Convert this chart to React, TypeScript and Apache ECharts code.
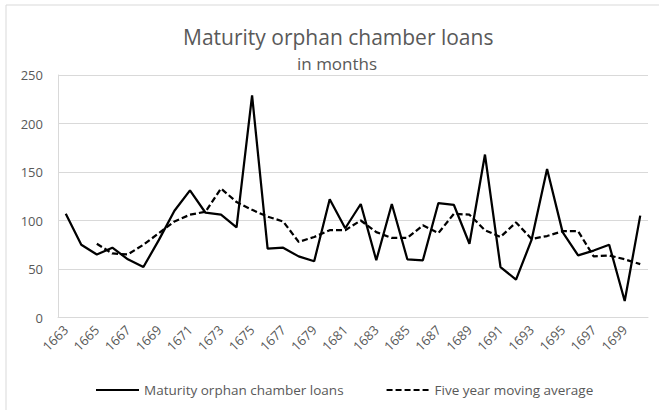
import React, { useEffect, useRef } from "react";
import * as echarts from "echarts";

const years = [
  "1663", "1664", "1665", "1666", "1667", "1668", "1669", "1670", "1671", "1672",
  "1673", "1674", "1675", "1676", "1677", "1678", "1679", "1680", "1681", "1682",
  "1683", "1684", "1685", "1686", "1687", "1688", "1689", "1690", "1691", "1692",
  "1693", "1694", "1695", "1696", "1697", "1698", "1699", "1700",
];

const loans = [
  107, 75, 65, 72, 60, 52, 80, 110, 131, 108,
  106, 93, 229, 71, 72, 63, 58, 122, 92, 117,
  59, 117, 60, 59, 118, 116, 76, 168, 52, 39,
  80, 153, 88, 64, 69, 75, 17, 105,
];

const movingAverage = [
  null, null, 76, 66, 65, 75, 87, 99, 106, 109,
  133, 119, 111, 104, 99, 78, 83, 90, 90, 100,
  88, 82, 82, 95, 87, 107, 106, 90, 83, 98,
  81, 84, 89, 89, 63, 64, 60, 55,
];

const yTicks = { min: 0, max: 250, interval: 50 };

const FONT = "'Open Sans', sans-serif";
const TEXT = "#595959";
const GRIDC = "#d9d9d9";

export default function App() {
  const ref = useRef<HTMLDivElement>(null);
  useEffect(() => {
    document.body.style.margin = "0";
    if (!ref.current) return;
    const chart = echarts.init(ref.current, undefined, { renderer: "svg" });
    chart.setOption({
      animation: false,
      backgroundColor: "#ffffff",
      textStyle: { fontFamily: FONT },
      graphic: [
        {
          type: "rect",
          z: -1,
          shape: { x: 6, y: 5, width: 720, height: 520 },
          style: { fill: "none", stroke: GRIDC, lineWidth: 1 },
        },
      ],
      title: [
        {
          text: "Maturity orphan chamber loans",
          left: 178,
          top: 21,
          textStyle: { fontFamily: FONT, fontSize: 21, fontWeight: "normal", color: TEXT },
        },
        {
          text: "in months",
          left: 292,
          top: 50,
          textStyle: { fontFamily: FONT, fontSize: 17, fontWeight: "normal", color: TEXT },
        },
      ],
      legend: {
        top: 378,
        left: 90,
        itemWidth: 43,
        itemHeight: 14,
        itemGap: 42,
        itemStyle: { opacity: 0, borderWidth: 0 },
        textStyle: { fontFamily: FONT, fontSize: 13.5, color: TEXT },
        data: ["Maturity orphan chamber loans", "Five year moving average"],
      },
      grid: { left: 58, right: 11, top: 75, bottom: 92.5 },
      xAxis: {
        type: "category",
        data: years,
        boundaryGap: true,
        axisLine: { show: true, lineStyle: { color: GRIDC, width: 1 } },
        axisTick: { show: false },
        axisLabel: {
          interval: 1,
          rotate: 45,
          margin: 10,
          fontSize: 13,
          color: TEXT,
          fontFamily: FONT,
        },
      },
      yAxis: {
        type: "value",
        min: yTicks.min,
        max: yTicks.max,
        interval: yTicks.interval,
        axisLine: { show: true, lineStyle: { color: GRIDC, width: 1 } },
        axisTick: { show: false },
        splitLine: { lineStyle: { color: GRIDC, width: 1 } },
        axisLabel: { margin: 15, fontSize: 13, color: TEXT, fontFamily: FONT },
      },
      series: [
        {
          name: "Maturity orphan chamber loans",
          type: "line",
          data: loans,
          symbol: "none",
          lineStyle: { color: "#000000", width: 2.25 },
          itemStyle: { color: "#000000" },
        },
        {
          name: "Five year moving average",
          type: "line",
          data: movingAverage,
          symbol: "none",
          connectNulls: false,
          lineStyle: { color: "#000000", width: 2.25, type: [6, 3] },
          itemStyle: { color: "#000000" },
        },
      ],
    });
    return () => chart.dispose();
  }, []);
  return <div ref={ref} style={{ width: 659, height: 410 }} />;
}
